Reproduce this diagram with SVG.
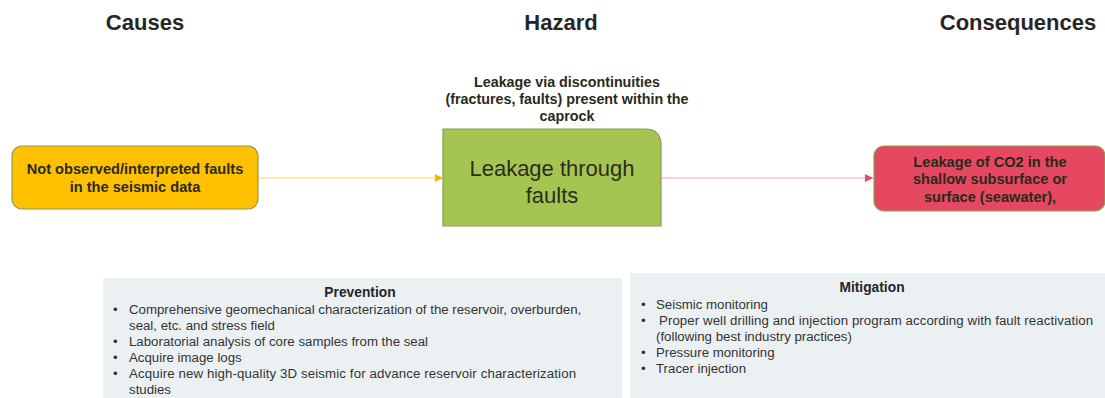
<svg xmlns="http://www.w3.org/2000/svg" width="1105" height="398" viewBox="0 0 1105 398">
<style>
  text { font-family: "Liberation Sans", Arial, sans-serif; fill: #262626; }
  .hdr { font-size: 22px; font-weight: bold; text-anchor: middle; }
  .nb { font-size: 14.6px; font-weight: bold; text-anchor: middle; fill: #2a2a1a; }
  .lbl { font-size: 14.3px; font-weight: bold; text-anchor: middle; fill: #2a2a1a; }
  .big { font-size: 22px; text-anchor: middle; fill: #2d2d1a; }
  .li { font-size: 13.25px; fill: #333333; }
  .ttl { font-size: 13.8px; font-weight: bold; text-anchor: middle; fill: #262626; }
  .panel { fill: #EBF0F3; }
  .node { stroke: #8E9B52; stroke-width: 1.2; }
</style>
<defs>
  <marker id="ay" markerWidth="8" markerHeight="8" refX="8" refY="4" orient="auto" markerUnits="userSpaceOnUse">
    <path d="M0,0 L8,4 L0,8 Z" fill="#FFB000"/>
  </marker>
  <marker id="ar" markerWidth="8" markerHeight="8" refX="8" refY="4" orient="auto" markerUnits="userSpaceOnUse">
    <path d="M0,0 L8,4 L0,8 Z" fill="#E8486A"/>
  </marker>
</defs>
<rect width="1105" height="398" fill="#FFFFFF"/>

<g id="headers">
  <text class="hdr" x="145" y="30">Causes</text>
  <text class="hdr" x="561" y="30">Hazard</text>
  <text class="hdr" x="1018" y="30">Consequences</text>
</g>

<g id="connectors">
  <line x1="258" y1="178" x2="443" y2="178" stroke="#FFD866" stroke-width="1.2" marker-end="url(#ay)"/>
  <line x1="661" y1="178" x2="873" y2="178" stroke="#F4A3B5" stroke-width="1.2" marker-end="url(#ar)"/>
</g>

<g id="cause">
  <rect class="node" x="12" y="146" width="246" height="63" rx="10" fill="#FFC000"/>
  <text class="nb" x="135" y="174">Not observed/interpreted faults</text>
  <text class="nb" x="135" y="192">in the seismic data</text>
</g>

<g id="hazard-label">
  <text class="lbl" x="567" y="87">Leakage via discontinuities</text>
  <text class="lbl" x="567" y="104">(fractures, faults) present within the</text>
  <text class="lbl" x="567" y="121">caprock</text>
</g>

<g id="hazard">
  <path class="node" d="M443,226 L443,129 L645,129 Q661,129 661,145 L661,226 Z" fill="#A5C553"/>
  <text class="big" x="552" y="176">Leakage through</text>
  <text class="big" x="552" y="203">faults</text>
</g>

<g id="consequence">
  <rect class="node" x="874" y="146" width="231" height="65" rx="10" fill="#E64862"/>
  <text class="nb" x="990" y="167">Leakage of CO2 in the</text>
  <text class="nb" x="990" y="184">shallow subsurface or</text>
  <text class="nb" x="990" y="202">surface (seawater),</text>
</g>

<g id="prevention">
  <rect class="panel" x="103" y="278" width="519" height="125"/>
  <text class="ttl" x="360" y="297">Prevention</text>
  <text class="li" x="113" y="314">•</text>
  <text class="li" x="129" y="314">Comprehensive geomechanical characterization of the reservoir, overburden,</text>
  <text class="li" x="129" y="330">seal, etc. and stress field</text>
  <text class="li" x="113" y="346">•</text>
  <text class="li" x="129" y="346">Laboratorial analysis of core samples from the seal</text>
  <text class="li" x="113" y="362">•</text>
  <text class="li" x="129" y="362">Acquire image logs</text>
  <text class="li" x="113" y="378">•</text>
  <text class="li" x="129" y="378" textLength="447" lengthAdjust="spacing">Acquire new high-quality 3D seismic for advance reservoir characterization</text>
  <text class="li" x="129" y="394">studies</text>
</g>

<g id="mitigation">
  <rect class="panel" x="630" y="273" width="480" height="130"/>
  <text class="ttl" x="872" y="292">Mitigation</text>
  <text class="li" x="641" y="309">•</text>
  <text class="li" x="656" y="309">Seismic monitoring</text>
  <text class="li" x="641" y="325">•</text>
  <text class="li" x="659" y="325" textLength="434" lengthAdjust="spacing">Proper well drilling and injection program according with fault reactivation</text>
  <text class="li" x="656" y="341">(following best industry practices)</text>
  <text class="li" x="641" y="357">•</text>
  <text class="li" x="656" y="357">Pressure monitoring</text>
  <text class="li" x="641" y="373">•</text>
  <text class="li" x="656" y="373">Tracer injection</text>
</g>
</svg>
